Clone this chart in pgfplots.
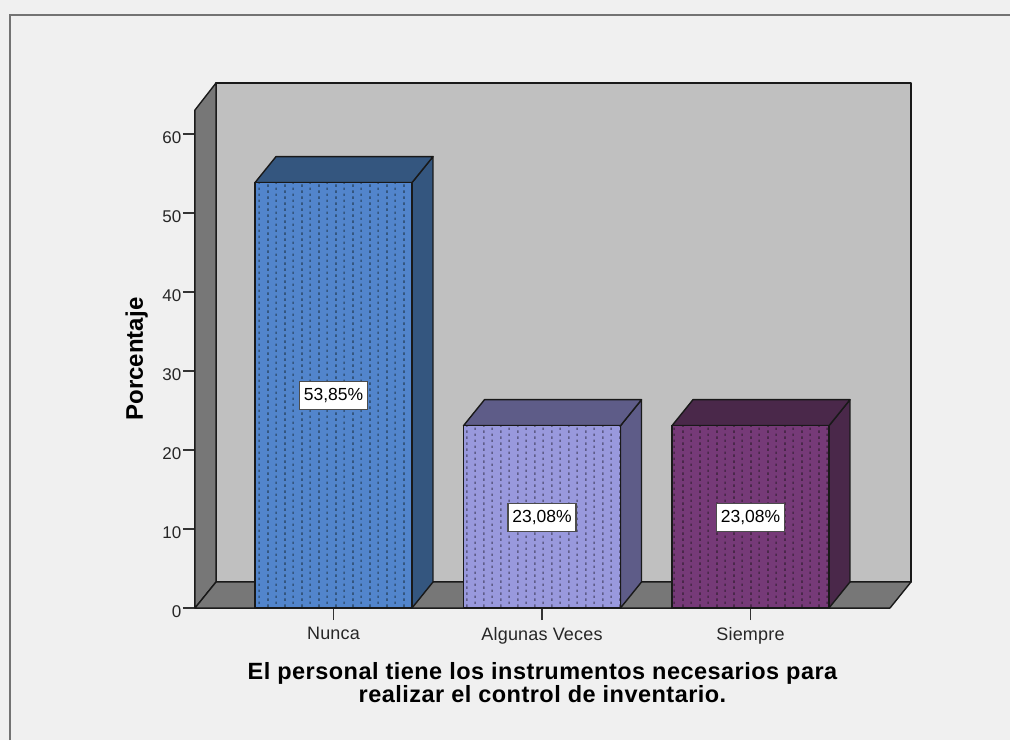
\documentclass[border=0pt]{standalone}
\usepackage{fontspec}
\setmainfont{Liberation Sans}
\newfontfamily\headfont[LetterSpace=2]{Liberation Sans}
\newfontfamily\catfont[LetterSpace=1]{Liberation Sans}
\usepackage{pgfplots}
\pgfplotsset{compat=1.18}
\usetikzlibrary{patterns}
\definecolor{panel}{HTML}{F0F0F0}
\definecolor{wall}{HTML}{C0C0C0}
\definecolor{floorgray}{HTML}{777777}
\definecolor{blueF}{HTML}{5285CC}
\definecolor{blueS}{HTML}{34567F}
\definecolor{lilacF}{HTML}{9999DD}
\definecolor{lilacS}{HTML}{5E5C88}
\definecolor{plumF}{HTML}{763A78}
\definecolor{plumS}{HTML}{4A284A}
% Staggered short vertical dashes laid over the bar fronts
\pgfdeclarepatternformonly{stipple}{\pgfqpoint{0pt}{0pt}}{\pgfqpoint{16.6pt}{5.8pt}}{\pgfqpoint{16.6pt}{5.8pt}}{
  \pgfsetlinewidth{1.6pt}
  \pgfpathmoveto{\pgfqpoint{2pt}{0.2pt}}\pgfpathlineto{\pgfqpoint{2pt}{2.8pt}}
  \pgfpathmoveto{\pgfqpoint{10.3pt}{3.1pt}}\pgfpathlineto{\pgfqpoint{10.3pt}{5.6pt}}
  \pgfusepath{stroke}
}
\tikzset{
  edge/.style={draw=black!90, line width=1.4pt, line join=round},
  front/.style={edge, fill=#1},
  dots/.style={draw=none, fill=none, pattern=stipple, pattern color=#1},
}
\begin{document}
\begin{tikzpicture}
% Panel behind the chart, with its frame along the left and top
\path[use as bounding box, fill=panel] (-195pt,-132pt) rectangle (815pt,608pt);
\draw[black!55, line width=1.8pt] (-185pt,-132pt) -- (-185pt,593pt) -- (815pt,593pt);
\begin{axis}[
  at={(0,0)}, anchor=south west,
  scale only axis, width=695pt, height=498pt,
  xmin=-0.6643, xmax=2.6691, ymin=0, ymax=63.04,
  clip=false,
  axis x line*=bottom, axis y line*=left,
  axis line style={line width=1.4pt, black!90},
  tick style={line width=1.4pt, black!80},
  major tick length=12pt, tick align=outside,
  xtick={0,1,2}, xticklabels={Nunca,Algunas Veces,Siempre},
  ytick={0,10,...,60},
  /pgf/number format/assume math mode=true,
  tick label style={text=black!85},
  yticklabel style={font=\fontsize{17}{20}\selectfont, inner sep=0pt, yshift=-4pt, xshift=-1.5pt},
  xticklabel style={font=\catfont\fontsize{18}{20}\selectfont, inner sep=0pt, yshift=-7pt},
  xlabel={El personal tiene los instrumentos necesarios para\\realizar el control de inventario.},
  xlabel style={font=\headfont\fontsize{23.5}{23.5}\selectfont\bfseries, align=center,
    at={(axis description cs:0.5,0)}, anchor=north, yshift=-54pt, inner sep=0pt},
  ylabel={Porcentaje},
  ylabel style={font=\fontsize{24}{24}\selectfont\bfseries,
    at={(axis description cs:0,0.5)}, anchor=south, yshift=47pt, inner sep=0pt},
]
% Back wall, side wall and floor of the box
\addplot[edge, fill=wall] coordinates {(-0.5635,3.29) (2.7698,3.29) (2.7698,66.46) (-0.5635,66.46)} -- cycle;
\addplot[edge, fill=floorgray] coordinates {(-0.6643,0) (-0.5635,3.29) (-0.5635,66.46) (-0.6643,63.04)} -- cycle;
\addplot[edge, fill=floorgray] coordinates {(-0.6643,0) (2.6691,0) (2.7698,3.29) (-0.5635,3.29)} -- cycle;

% Nunca: 53.85
\addplot[edge, fill=blueS] coordinates {(0.3765,0) (0.4772,3.29) (0.4772,57.14) (0.3765,53.85)} -- cycle;
\addplot[edge, fill=blueS] coordinates {(-0.3765,53.85) (0.3765,53.85) (0.4772,57.14) (-0.2758,57.14)} -- cycle;
\addplot[front=blueF] coordinates {(-0.3765,0) (0.3765,0) (0.3765,53.85) (-0.3765,53.85)} -- cycle;
\addplot[dots=blueS] coordinates {(-0.3765,0) (0.3765,0) (0.3765,53.85) (-0.3765,53.85)} -- cycle;
\addplot[edge, fill=none] coordinates {(-0.3765,0) (0.3765,0) (0.3765,53.85) (-0.3765,53.85)} -- cycle;

% Algunas Veces: 23.08
\addplot[edge, fill=lilacS] coordinates {(1.3765,0) (1.4772,3.29) (1.4772,26.37) (1.3765,23.08)} -- cycle;
\addplot[edge, fill=lilacS] coordinates {(0.6235,23.08) (1.3765,23.08) (1.4772,26.37) (0.7242,26.37)} -- cycle;
\addplot[front=lilacF] coordinates {(0.6235,0) (1.3765,0) (1.3765,23.08) (0.6235,23.08)} -- cycle;
\addplot[dots=lilacS] coordinates {(0.6235,0) (1.3765,0) (1.3765,23.08) (0.6235,23.08)} -- cycle;
\addplot[edge, fill=none] coordinates {(0.6235,0) (1.3765,0) (1.3765,23.08) (0.6235,23.08)} -- cycle;

% Siempre: 23.08
\addplot[edge, fill=plumS] coordinates {(2.3765,0) (2.4772,3.29) (2.4772,26.37) (2.3765,23.08)} -- cycle;
\addplot[edge, fill=plumS] coordinates {(1.6235,23.08) (2.3765,23.08) (2.4772,26.37) (1.7242,26.37)} -- cycle;
\addplot[front=plumF] coordinates {(1.6235,0) (2.3765,0) (2.3765,23.08) (1.6235,23.08)} -- cycle;
\addplot[dots=plumS] coordinates {(1.6235,0) (2.3765,0) (2.3765,23.08) (1.6235,23.08)} -- cycle;
\addplot[edge, fill=none] coordinates {(1.6235,0) (2.3765,0) (2.3765,23.08) (1.6235,23.08)} -- cycle;

% Value labels, centred on each bar front
\addplot[draw=none, mark=none, nodes near coords, point meta=explicit symbolic,
  every node near coord/.style={anchor=center, fill=white, draw=black!70, line width=1.2pt,
    font=\fontsize{17.5}{20}\selectfont, inner sep=0pt, minimum width=68pt, minimum height=28pt, text=black}]
  coordinates {(0,26.9)[53,85\%] (1,11.5)[23,08\%] (2,11.5)[23,08\%]};
\end{axis}
\end{tikzpicture}
\end{document}
